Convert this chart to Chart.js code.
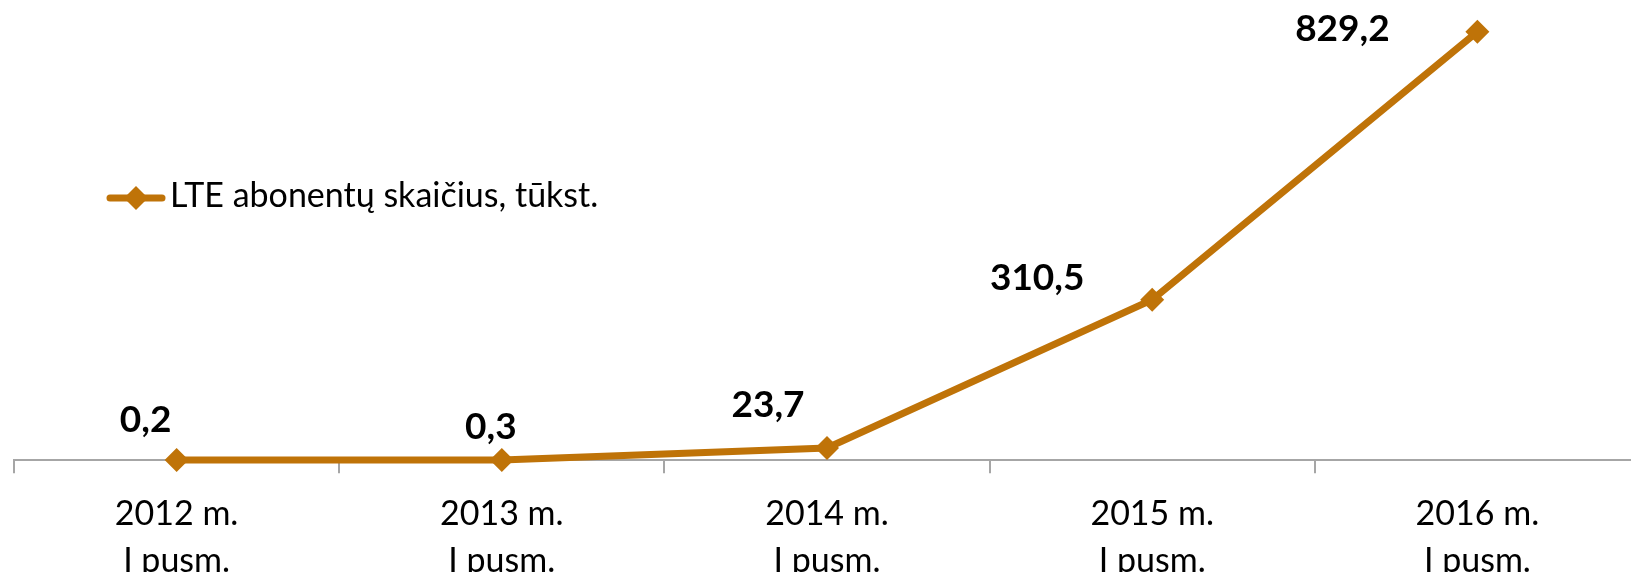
<!DOCTYPE html>
<html>
<head>
<meta charset="utf-8">
<script src="https://cdn.jsdelivr.net/npm/chart.js@4/dist/chart.umd.min.js"></script>
<style>
  html, body { margin: 0; padding: 0; background: #fff; overflow: hidden; }
  .wrap { position: relative; width: 1652px; height: 604px; }
</style>
</head>
<body>
<div class="wrap"><canvas id="chart"></canvas></div>
<script>
const periods = [["2012 m.", "I pusm."], ["2013 m.", "I pusm."], ["2014 m.", "I pusm."], ["2015 m.", "I pusm."], ["2016 m.", "I pusm."]]
const subscribers = [0.2, 0.3, 23.7, 310.5, 829.2]
const seriesLabel = "LTE abonentų skaičius, tūkst."

const lineColor = "#bf7308"
const fontFamily = "Lato, 'Open Sans', sans-serif"

// value labels sit up-left of each point, like the Excel original
const labelOffsets = [[-31, -40], [-11, -33], [-59, -43], [-115, -22], [-135, -3]]

const valueLabels = {
    id: "valueLabels",
    afterDatasetsDraw(chart) {
        const ctx = chart.ctx
        const meta = chart.getDatasetMeta(0)
        ctx.save()
        ctx.font = "bold 37px " + fontFamily
        ctx.fillStyle = "#000"
        ctx.textAlign = "center"
        ctx.textBaseline = "middle"
        meta.data.forEach((pt, i) => {
            const v = chart.data.datasets[0].data[i]
            const txt = v.toFixed(1).replace(".", ",")
            ctx.fillText(txt, pt.x + labelOffsets[i][0], pt.y + labelOffsets[i][1])
        })
        ctx.restore()
    }
}

const insideLegend = {
    id: "insideLegend",
    afterDraw(chart) {
        const ctx = chart.ctx
        const y = 198
        ctx.save()
        ctx.strokeStyle = lineColor
        ctx.lineWidth = 7
        ctx.lineCap = "round"
        ctx.beginPath()
        ctx.moveTo(110, y)
        ctx.lineTo(162, y)
        ctx.stroke()
        ctx.fillStyle = lineColor
        ctx.beginPath()
        ctx.moveTo(136, y - 12)
        ctx.lineTo(148, y)
        ctx.lineTo(136, y + 12)
        ctx.lineTo(124, y)
        ctx.closePath()
        ctx.fill()
        ctx.fillStyle = "#000"
        ctx.font = "34px " + fontFamily
        ctx.textAlign = "left"
        ctx.textBaseline = "middle"
        ctx.fillText(chart.data.datasets[0].label, 170, y - 2)
        ctx.restore()
    }
}

new Chart(document.getElementById("chart"), {
    type: "line",
    data: {
        labels: periods,
        datasets: [{
            label: seriesLabel,
            data: subscribers,
            borderColor: lineColor,
            backgroundColor: lineColor,
            borderWidth: 7,
            pointStyle: "rectRot",
            pointRadius: 12,
            pointHoverRadius: 12,
            pointBackgroundColor: lineColor,
            pointBorderWidth: 0,
            tension: 0,
            clip: false
        }]
    },
    options: {
        responsive: true,
        maintainAspectRatio: false,
        animation: false,
        layout: { padding: { top: 21, left: 14, right: 8, bottom: 3 } },
        plugins: {
            legend: { display: false },
            tooltip: { enabled: false }
        },
        scales: {
            y: {
                display: false,
                min: 0,
                max: 850
            },
            x: {
                offset: true,
                border: { display: true, color: "#a6a6a6", width: 2 },
                grid: {
                    display: true,
                    offset: true,
                    drawOnChartArea: false,
                    drawTicks: true,
                    tickLength: 13,
                    color: "#a6a6a6",
                    lineWidth: 2
                },
                ticks: {
                    color: "#000",
                    padding: 17,
                    maxRotation: 0,
                    autoSkip: false,
                    font: { family: fontFamily, size: 34, lineHeight: 1.38 }
                }
            }
        }
    },
    plugins: [valueLabels, insideLegend]
})
</script>
</body>
</html>
